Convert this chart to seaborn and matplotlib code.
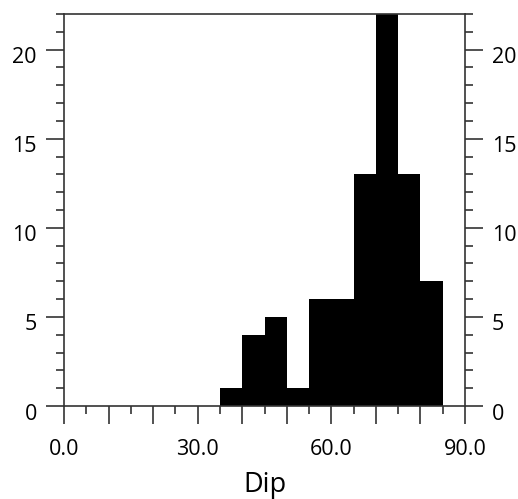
import numpy as np
import pandas as pd
import seaborn as sns
import matplotlib.pyplot as plt
from matplotlib.ticker import MultipleLocator, FuncFormatter
from matplotlib.transforms import ScaledTranslation

# bin centres (Dip, degrees) and counts
dip_centres = [37.5, 42.5, 47.5, 52.5, 57.5, 62.5, 67.5, 72.5, 77.5, 82.5]
counts = [1, 4, 5, 1, 6, 6, 13, 22, 13, 7]

df = pd.DataFrame({"Dip": dip_centres, "count": counts})

sns.set_style("white")
plt.rcParams["font.family"] = ["Open Sans", "DejaVu Sans"]

fig = plt.figure(figsize=(5.18, 4.99), dpi=100)
ax = fig.add_axes([0.1236, 0.1864, 0.7741, 0.7856])

sns.histplot(data=df, x="Dip", weights="count", binwidth=5, binrange=(0, 90),
             color="black", alpha=1, edgecolor="none", linewidth=0, ax=ax)

ax.set_xlim(0, 90)
ax.set_ylim(0, 22)

ax.xaxis.set_major_locator(MultipleLocator(10))
ax.xaxis.set_minor_locator(MultipleLocator(5))
ax.xaxis.set_major_formatter(FuncFormatter(lambda v, p: f"{v:.1f}" if round(v) % 30 == 0 else ""))
ax.yaxis.set_major_locator(MultipleLocator(5))
ax.yaxis.set_minor_locator(MultipleLocator(1))

ax.tick_params(axis="both", which="major", direction="out", length=13, width=1.2,
               labelsize=15.5, color="#333333", labelcolor="black", pad=6.5)
ax.tick_params(axis="both", which="minor", direction="out", length=6, width=1.2,
               color="#333333")
ax.tick_params(axis="y", which="both", left=True, right=True, labelleft=True, labelright=True)
ax.tick_params(axis="x", which="both", bottom=True, top=False, pad=11)

for s in ax.spines.values():
    s.set_linewidth(1.2)
    s.set_color("#333333")

ax.set_ylabel("")
ax.set_xlabel("Dip", fontsize=19.5, color="black", labelpad=8)

# y tick labels sit a little below their ticks in the original
shift = ScaledTranslation(0, -4 / 72, fig.dpi_scale_trans)
for t in ax.yaxis.get_major_ticks():
    t.label1.set_transform(t.label1.get_transform() + shift)
    t.label2.set_transform(t.label2.get_transform() + shift)

plt.savefig("out.png", dpi=100)
